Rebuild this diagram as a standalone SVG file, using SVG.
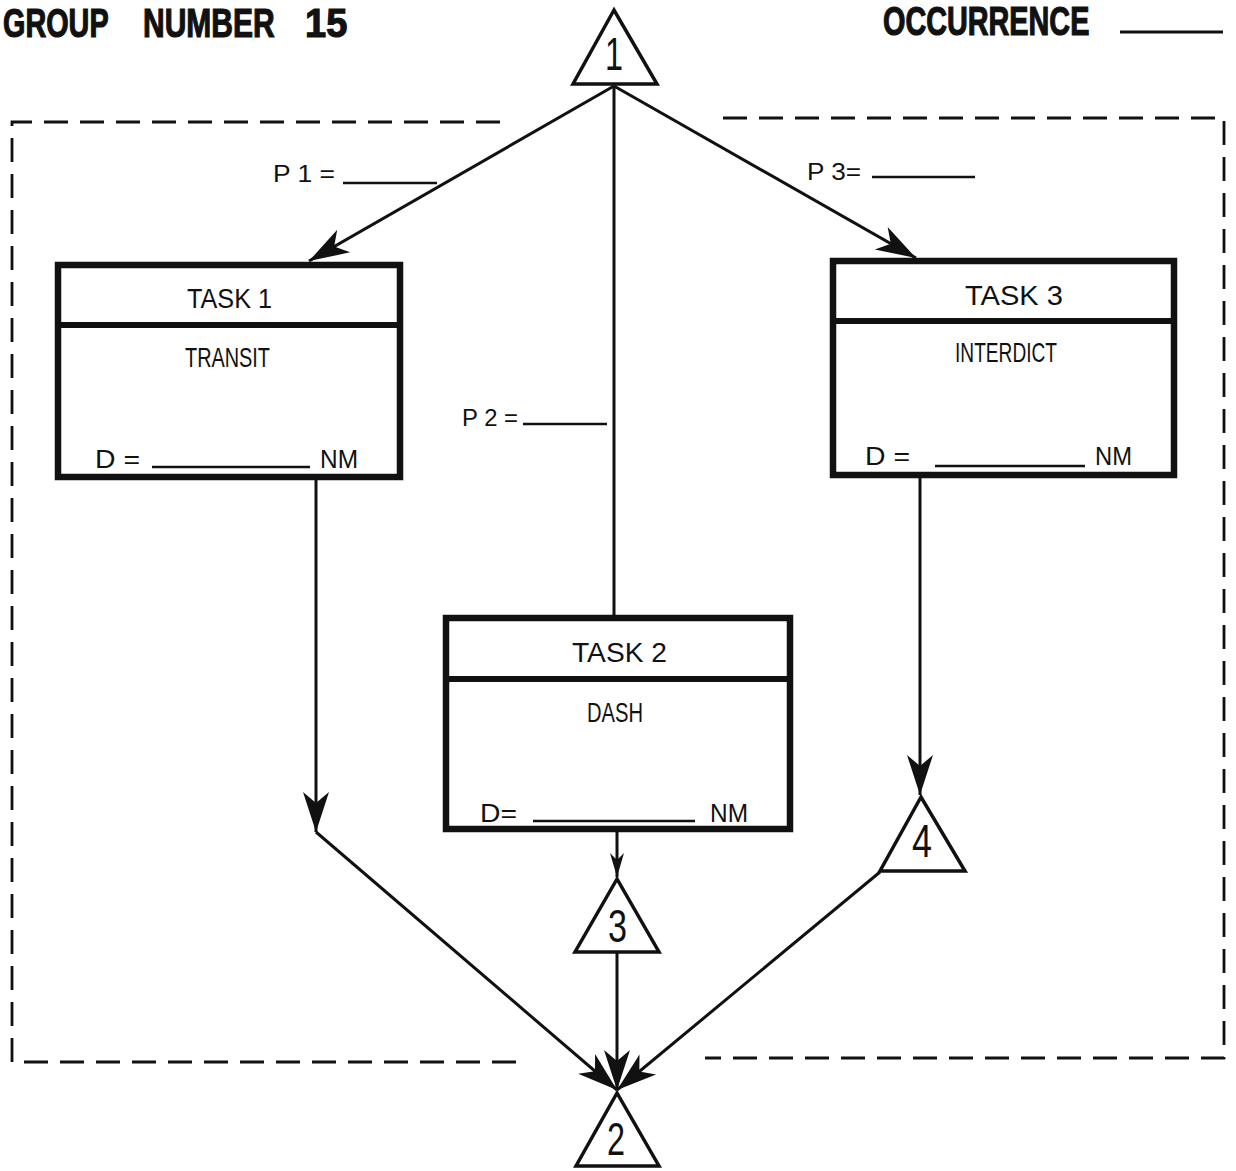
<svg xmlns="http://www.w3.org/2000/svg" width="1236" height="1171" viewBox="0 0 1236 1171">
<style>
.bg{fill:#ffffff}
.hdr{font-family:"Liberation Sans",Arial,sans-serif;font-weight:bold;font-size:40px;fill:#111;stroke:#111;stroke-width:1.2}
.t{font-family:"Liberation Sans",Arial,sans-serif;font-size:28px;fill:#111}
.d{font-family:"Liberation Sans",Arial,sans-serif;font-size:25px;fill:#111}
.p{font-family:"Liberation Sans",Arial,sans-serif;font-size:23px;fill:#111}
.num{font-family:"Liberation Sans",Arial,sans-serif;font-size:46px;fill:#111}
.box{fill:#fff;stroke:#111;stroke-width:6.5}
.div{stroke:#111;stroke-width:6}
.tri{fill:#fff;stroke:#111;stroke-width:3.5;stroke-linejoin:miter}
.ul{stroke:#111;stroke-width:2.5}
.conn{stroke:#111;stroke-width:3;fill:none}
.dash{stroke:#111;stroke-width:2.8;fill:none;stroke-dasharray:24 12}
</style>
<defs>
<marker id="ah" markerUnits="userSpaceOnUse" viewBox="-42 -14 44 28" markerWidth="44" markerHeight="28" refX="0" refY="0" orient="auto">
<path d="M0,0 L-40,-13 L-29,0 L-40,13 Z" fill="#111"/>
</marker>
<marker id="ahs" markerUnits="userSpaceOnUse" viewBox="-26 -9 28 18" markerWidth="28" markerHeight="18" refX="0" refY="0" orient="auto">
<path d="M0,0 L-24,-7 L-17,0 L-24,7 Z" fill="#111"/>
</marker>
</defs>
<rect class="bg" x="0" y="0" width="1236" height="1171"/>

<g id="header">
<text class="hdr" transform="translate(3,37) scale(0.72,1)">GROUP</text>
<text class="hdr" transform="translate(143,37) scale(0.75,1)">NUMBER</text>
<text class="hdr" transform="translate(305,37) scale(0.95,1)">15</text>
<text class="hdr" transform="translate(883,35) scale(0.72,1)">OCCURRENCE</text>
<line class="ul" x1="1120" y1="32" x2="1223" y2="32" style="stroke-width:3"/>
</g>

<g id="boundary">
<path class="dash" d="M500,122 L12,122 L12,1062 L518,1062"/>
<path class="dash" d="M723,118 L1224,118 L1224,1058 L705,1058"/>
</g>

<g id="connectors">
<line class="conn" x1="614" y1="86" x2="309" y2="261" marker-end="url(#ah)"/>
<line class="conn" x1="614" y1="86" x2="916" y2="258" marker-end="url(#ah)"/>
<line class="conn" x1="614" y1="86" x2="614" y2="618"/>
<line class="conn" x1="316" y1="480" x2="316" y2="832" marker-end="url(#ah)"/>
<line class="conn" x1="316" y1="832" x2="617" y2="1090" marker-end="url(#ah)"/>
<line class="conn" x1="920" y1="478" x2="920" y2="795" marker-end="url(#ah)"/>
<line class="conn" x1="617" y1="832" x2="617" y2="877" marker-end="url(#ahs)"/>
<line class="conn" x1="617" y1="953" x2="617" y2="1090" marker-end="url(#ah)"/>
<line class="conn" x1="880" y1="872" x2="617" y2="1090" marker-end="url(#ah)"/>
</g>

<g id="labels">
<text class="p" x="273" y="182" textLength="62" lengthAdjust="spacingAndGlyphs">P 1 =</text>
<line class="ul" x1="343" y1="183" x2="437" y2="183"/>
<text class="p" x="462" y="426" textLength="56" lengthAdjust="spacingAndGlyphs">P 2 =</text>
<line class="ul" x1="523" y1="424" x2="607" y2="424"/>
<text class="p" x="807" y="180" textLength="54" lengthAdjust="spacingAndGlyphs">P 3=</text>
<line class="ul" x1="872" y1="177" x2="975" y2="177"/>
</g>

<g id="node-1">
<polygon class="tri" points="614,10 573,84 657,84"/>
<text class="num" x="605" y="70" textLength="18" lengthAdjust="spacingAndGlyphs">1</text>
</g>

<g id="task-1">
<rect class="box" x="58" y="265" width="342" height="212"/>
<line class="div" x1="58" y1="325" x2="400" y2="325"/>
<text class="t" x="187" y="308" textLength="85" lengthAdjust="spacingAndGlyphs">TASK 1</text>
<text class="t" x="185" y="367" textLength="85" lengthAdjust="spacingAndGlyphs">TRANSIT</text>
<text class="d" x="95" y="468" textLength="45" lengthAdjust="spacingAndGlyphs">D =</text>
<line class="ul" x1="152" y1="467" x2="310" y2="467"/>
<text class="d" x="320" y="468" textLength="38" lengthAdjust="spacingAndGlyphs">NM</text>
</g>

<g id="task-3">
<rect class="box" x="833" y="261" width="341" height="214"/>
<line class="div" x1="833" y1="321" x2="1174" y2="321"/>
<text class="t" x="965" y="305" textLength="98" lengthAdjust="spacingAndGlyphs">TASK 3</text>
<text class="t" x="955" y="362" textLength="102" lengthAdjust="spacingAndGlyphs">INTERDICT</text>
<text class="d" x="865" y="465" textLength="45" lengthAdjust="spacingAndGlyphs">D =</text>
<line class="ul" x1="935" y1="466" x2="1085" y2="466"/>
<text class="d" x="1095" y="465" textLength="37" lengthAdjust="spacingAndGlyphs">NM</text>
</g>

<g id="task-2">
<rect class="box" x="446" y="618" width="344" height="211"/>
<line class="div" x1="446" y1="679" x2="790" y2="679"/>
<text class="t" x="572" y="662" textLength="95" lengthAdjust="spacingAndGlyphs">TASK 2</text>
<text class="t" x="587" y="722" textLength="56" lengthAdjust="spacingAndGlyphs">DASH</text>
<text class="d" x="480" y="822" textLength="37" lengthAdjust="spacingAndGlyphs">D=</text>
<line class="ul" x1="533" y1="821" x2="695" y2="821"/>
<text class="d" x="710" y="822" textLength="38" lengthAdjust="spacingAndGlyphs">NM</text>
</g>

<g id="node-3">
<polygon class="tri" points="617,879 575,952 659,952"/>
<text class="num" x="608" y="942" textLength="19" lengthAdjust="spacingAndGlyphs">3</text>
</g>

<g id="node-4">
<polygon class="tri" points="921,797 880,871 965,871"/>
<text class="num" x="912" y="857" textLength="20" lengthAdjust="spacingAndGlyphs">4</text>
</g>

<g id="node-2">
<polygon class="tri" points="617,1093 576,1166 659,1166"/>
<text class="num" x="607" y="1155" textLength="18" lengthAdjust="spacingAndGlyphs">2</text>
</g>
</svg>
